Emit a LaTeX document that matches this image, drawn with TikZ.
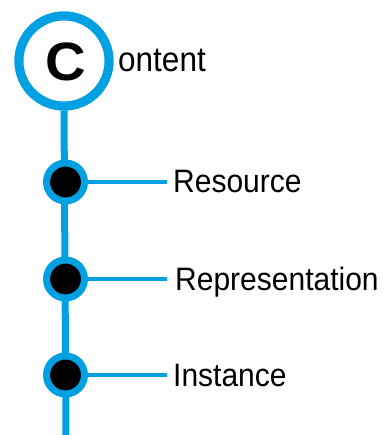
\documentclass[tikz,border=0pt]{standalone}
\usepackage{fontspec}
\setmainfont{Liberation Sans}
\definecolor{tlblue}{RGB}{0,160,227}
\begin{document}
\begin{tikzpicture}[x=1pt,y=-1pt,
  bigring/.style={circle,draw=tlblue,line width=9pt,fill=white,minimum size=90pt,inner sep=0pt},
  dotring/.style={circle,draw=tlblue,line width=7pt,fill=black,minimum size=38pt,inner sep=0pt},
  spine/.style={draw=tlblue,line width=7pt},
  branch/.style={draw=tlblue,line width=4.5pt},
  label/.style={anchor=base west,inner sep=0pt,font=\fontsize{30}{36}\selectfont}]
\useasboundingbox (0,0) rectangle (384,435);
\coordinate (bottom) at (66,436);
\node[bigring] (content) at (64,61) {};
\draw[spine] (content.south) -- (bottom);
\node[bigring] (content2) at (64,61) {};
\node[inner sep=0pt] (bigc) at (65.8,62) {\scalebox{1.04}[1]{\fontsize{54}{60}\selectfont\bfseries C}};
\node[label] (ontent) at (118,72) {\scalebox{1}[1.1]{\fontsize{31.5}{36}\selectfont ontent}};
\node[dotring] (r1) at (65.5,182) {};
\node[dotring] (r2) at (65.5,279) {};
\node[dotring] (r3) at (65.5,375) {};
\node[label] (t1) at (173,193) {\scalebox{1}[1.08]{Resource}};
\node[label] (t2) at (175,290) {\scalebox{1}[1.08]{Representation}};
\node[label] (t3) at (173,386) {\scalebox{1}[1.08]{Instance}};
\coordinate (e1) at (167,182);
\coordinate (e2) at (167,279);
\coordinate (e3) at (167,375);
\draw[branch] (r1.east) -- (e1);
\draw[branch] (r2.east) -- (e2);
\draw[branch] (r3.east) -- (e3);
\end{tikzpicture}
\end{document}
